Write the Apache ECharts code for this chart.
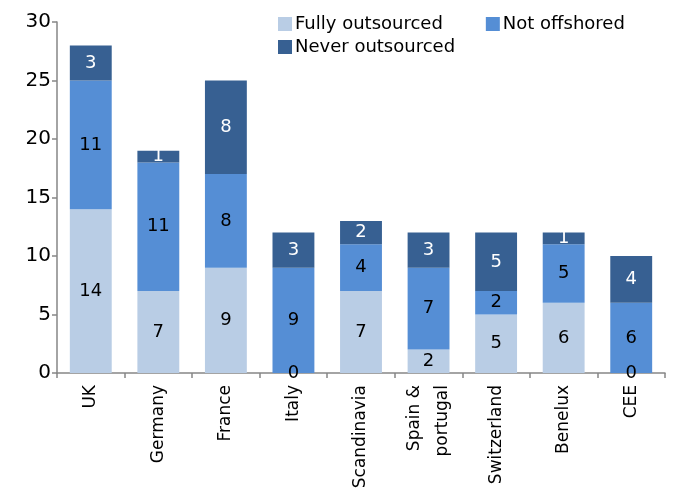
<!DOCTYPE html>
<html>
<head>
<meta charset="utf-8">
<script src="https://cdn.jsdelivr.net/npm/echarts@6/dist/echarts.min.js"></script>
<style>
  html, body { margin: 0; padding: 0; background: #fff; }
  #chart { width: 673px; height: 491px; }
</style>
</head>
<body>
<div id="chart"></div>
<script>
// Regions along the x axis
const categories = ['UK', 'Germany', 'France', 'Italy', 'Scandinavia', 'Spain &\nportugal', 'Switzerland', 'Benelux', 'CEE'];

// Stacked counts per region
const fullyOutsourced = [14, 7, 9, 0, 7, 2, 5, 6, 0];
const notOffshored    = [11, 11, 8, 9, 4, 7, 2, 5, 6];
const neverOutsourced = [3, 1, 8, 3, 2, 3, 5, 1, 4];

const seriesNames = ['Fully outsourced', 'Not offshored', 'Never outsourced'];
const yTicks = { min: 0, max: 30, interval: 5 };

const FONT = '"DejaVu Sans", "Noto Sans", sans-serif';
const colors = ['#B9CDE5', '#558ED5', '#376092'];
const labelColors = ['#000', '#000', '#fff'];

const chart = echarts.init(document.getElementById('chart'), null, { renderer: 'canvas' });

function barSeries(i, data) {
  return {
    name: seriesNames[i],
    type: 'bar',
    stack: 'total',
    barWidth: '62%',
    data: data,
    itemStyle: { color: colors[i] },
    label: {
      show: true,
      position: 'inside',
      color: labelColors[i],
      fontFamily: FONT,
      fontSize: 18
    },
    emphasis: { disabled: true }
  };
}

const legendCommon = {
  itemWidth: 14,
  itemHeight: 14,
  icon: 'rect',
  orient: 'horizontal',
  selectedMode: false,
  padding: 0,
  textStyle: { fontFamily: FONT, fontSize: 18, color: '#000', padding: [0, 0, 0, -2] }
};

chart.setOption({
  animation: false,
  textStyle: { fontFamily: FONT },
  legend: [
    Object.assign({}, legendCommon, {
      data: seriesNames.slice(0, 2),
      left: 278,
      top: 15,
      itemGap: 43
    }),
    Object.assign({}, legendCommon, {
      data: seriesNames.slice(2),
      left: 278,
      top: 38
    })
  ],
  grid: { left: 57, right: 8, top: 22, bottom: 118, outerBoundsMode: 'none', containLabel: false },
  xAxis: {
    type: 'category',
    data: categories,
    axisLine: { lineStyle: { color: '#868686', width: 1.5 } },
    axisTick: { show: true, length: 5, lineStyle: { color: '#868686', width: 1.5 } },
    axisLabel: {
      rotate: 90,
      interval: 0,
      margin: 12,
      color: '#000',
      fontFamily: FONT,
      fontSize: 17,
      lineHeight: 28
    }
  },
  yAxis: {
    type: 'value',
    min: yTicks.min,
    max: yTicks.max,
    interval: yTicks.interval,
    splitLine: { show: false },
    axisLine: { show: true, lineStyle: { color: '#868686', width: 1.5 } },
    axisTick: { show: true, length: 5, lineStyle: { color: '#868686', width: 1.5 } },
    axisLabel: { color: '#000', fontFamily: FONT, fontSize: 20, margin: 6 }
  },
  series: [
    barSeries(0, fullyOutsourced),
    barSeries(1, notOffshored),
    barSeries(2, neverOutsourced)
  ]
});
</script>
</body>
</html>
